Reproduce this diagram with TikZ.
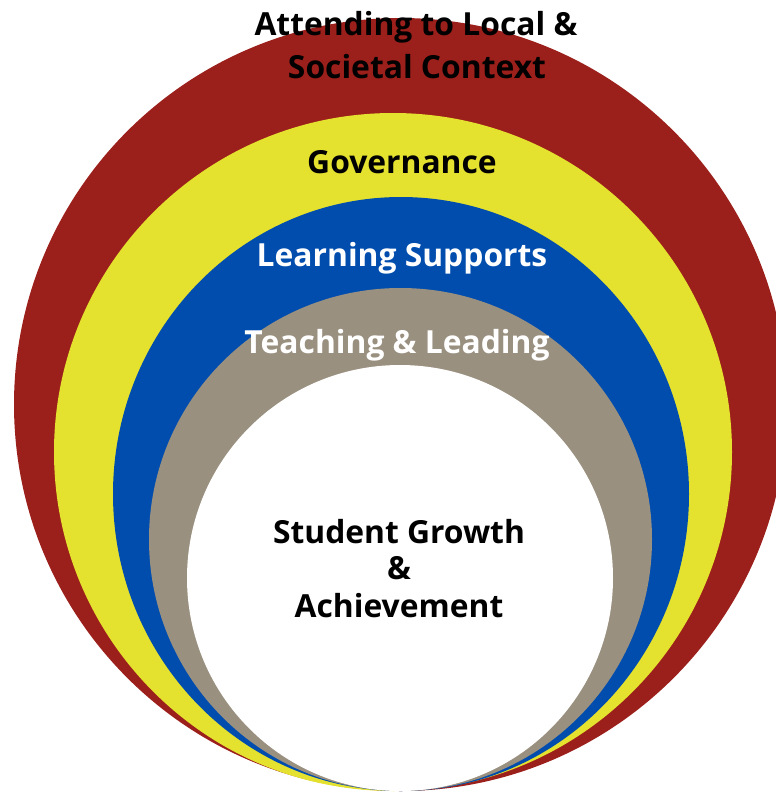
\documentclass[tikz,border=0pt]{standalone}
\usepackage{fontspec}
\setmainfont{Open Sans}
\definecolor{ringred}{HTML}{9B1F1A}
\definecolor{ringyellow}{HTML}{E5E22F}
\definecolor{ringblue}{HTML}{004DAE}
\definecolor{ringgray}{HTML}{9A9080}
\begin{document}
\begin{tikzpicture}[x=1pt,y=-1pt,
  lbl/.style={font=\bfseries\fontsize{31.8}{37}\selectfont, anchor=base, inner sep=0pt},
  ring/.style={draw=none}]
\useasboundingbox (0,0) rectangle (776,793);
\clip (0,0) rectangle (776,793);
\fill[ringred] (400.5,404.5) circle[radius=386.5];
\fill[ringyellow] (393,452) circle[radius=339];
\fill[ringblue] (401,494) ellipse[x radius=288, y radius=297];
\fill[ringgray] (400.5,539.5) circle[radius=251.5];
\fill[white] (400,578) circle[radius=213];
\node[lbl] (ctx1) at (416,35) {Attending to Local \&};
\node[lbl] (ctx2) at (417,78) {Societal Context};
\node[lbl] (gov) at (402,173) {Governance};
\node[lbl, text=white] (ls) at (402,266) {Learning Supports};
\node[lbl, text=white] (tl) at (397,353) {Teaching \& Leading};
\node[lbl] (sg1) at (399,543) {Student Growth};
\node[lbl] (sg2) at (399,579) {\&};
\node[lbl] (sg3) at (399,617) {Achievement};
\end{tikzpicture}
\end{document}
